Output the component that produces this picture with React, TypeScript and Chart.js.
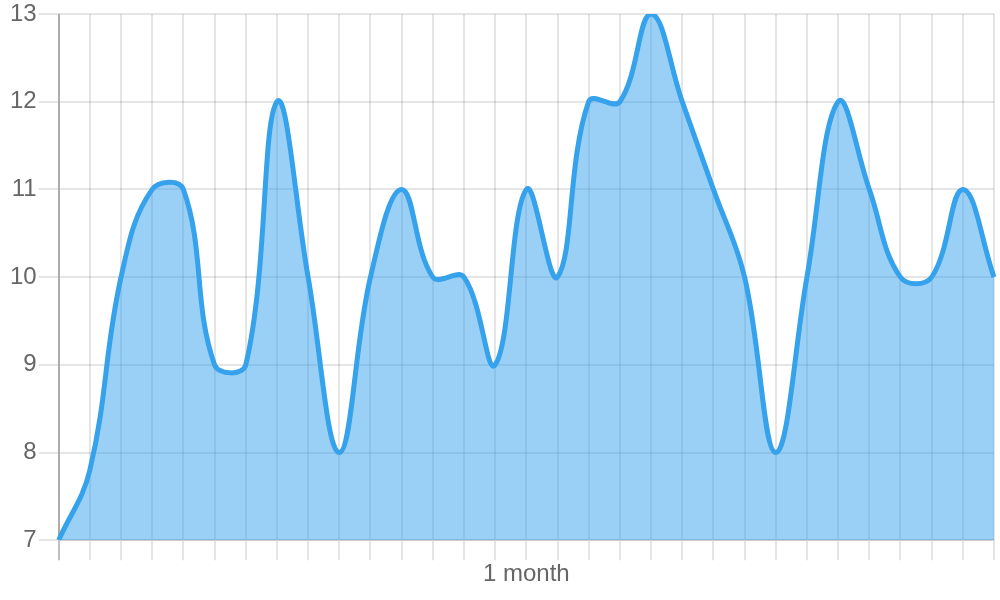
import React, { useEffect, useRef } from 'react';
import { Chart, registerables } from 'chart.js';

Chart.register(...registerables);

const categories: string[] = [
  '', '', '', '', '', '', '', '', '', '', '', '', '', '', '',
  '1 month',
  '', '', '', '', '', '', '', '', '', '', '', '', '', '', '',
];

const seriesValues: number[] = [
  7, 7.8, 10, 11, 11, 9, 9, 12, 10, 8, 10, 11, 10, 10, 9, 11,
  10, 12, 12, 13, 12, 11, 10, 8, 10, 12, 11, 10, 10, 11, 10,
];

const yMin = 7;
const yMax = 13;
const yStep = 1;

export default function App() {
  const canvasRef = useRef<HTMLCanvasElement | null>(null);

  useEffect(() => {
    document.body.style.margin = '0';
    const canvas = canvasRef.current;
    if (!canvas) return;
    const font = { family: "'Liberation Sans', Arial, sans-serif", size: 24 };
    const chart = new Chart(canvas, {
      type: 'line',
      data: {
        labels: categories,
        datasets: [
          {
            data: seriesValues,
            borderColor: 'rgb(54, 162, 235)',
            backgroundColor: 'rgba(54, 162, 235, 0.5)',
            borderWidth: 5,
            fill: 'start',
            tension: 0.4,
            pointRadius: 0,
            pointHoverRadius: 0,
          },
        ],
      },
      options: {
        animation: false,
        responsive: false,
        maintainAspectRatio: false,
        layout: { padding: { left: 8, right: 6, top: 0, bottom: 11 } },
        plugins: {
          legend: { display: false },
          tooltip: { enabled: false },
        },
        scales: {
          x: {
            grid: {
              color: (ctx: any) => (ctx.index === 0 ? 'rgba(0,0,0,0.25)' : 'rgba(0,0,0,0.1)'),
              lineWidth: 2,
              tickLength: 20,
            },
            border: { color: 'rgba(0,0,0,0.1)', width: 2 },
            ticks: {
              autoSkip: false,
              maxRotation: 0,
              padding: 0,
              color: '#666',
              font,
            },
          },
          y: {
            min: yMin,
            max: yMax,
            grid: { color: 'rgba(0,0,0,0.1)', lineWidth: 2, tickLength: 20 },
            border: { color: 'rgba(0,0,0,0.1)', width: 2 },
            ticks: { stepSize: yStep, padding: 2, color: '#666', font },
            afterFit: (scale: any) => {
              scale.paddingTop = 14;
            },
          },
        },
      },
    });
    return () => chart.destroy();
  }, []);

  return (
    <div style={{ width: 1000, height: 600 }}>
      <canvas ref={canvasRef} width={1000} height={600} style={{ display: 'block' }} />
    </div>
  );
}
